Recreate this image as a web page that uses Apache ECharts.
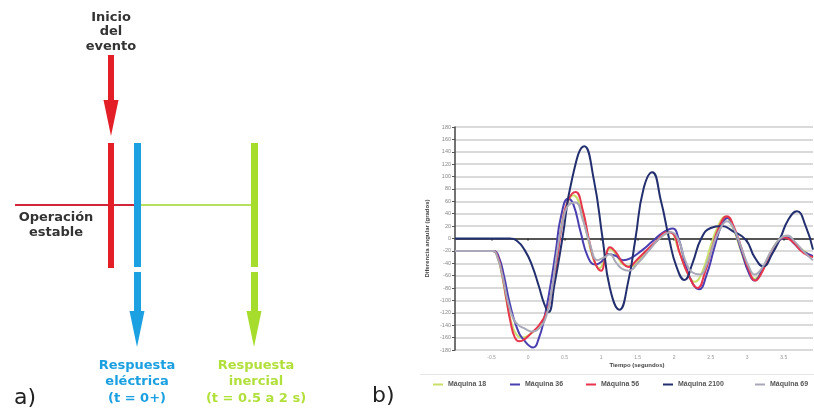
<!DOCTYPE html>
<html>
<head>
<meta charset="utf-8">
<script src="https://cdn.jsdelivr.net/npm/echarts@6/dist/echarts.min.js"></script>
<style>html,body{margin:0;padding:0;background:#fff}#c{width:814px;height:418px}</style>
</head>
<body>
<div id="c"></div>
<script>
// ---- Chart b) data: time (s) vs angular difference (degrees) ----
const seriesNames = ['Máquina 18', 'Máquina 36', 'Máquina 56', 'Máquina 2100', 'Máquina 69'];
const yTicks = { min: -180, max: 180, step: 20 };
const xTicks = { min: -1, max: 3.9, step: 0.5 };

const maq18 = [[-1,-20],[-0.48,-20],[-0.42,-30],[-0.36,-58],[-0.3,-98],[-0.23,-135],[-0.16,-155],[-0.08,-160],[0.02,-155],[0.12,-145],[0.22,-128],[0.3,-100],[0.38,-45],[0.45,15],[0.53,55],[0.62,70],[0.72,50],[0.8,10],[0.9,-35],[0.98,-48],[1.05,-30],[1.12,-17],[1.2,-25],[1.3,-42],[1.4,-45],[1.55,-30],[1.7,-12],[1.85,5],[1.95,10],[2.05,-15],[2.18,-55],[2.28,-70],[2.38,-55],[2.5,-12],[2.6,20],[2.7,35],[2.8,18],[2.9,-15],[3.0,-48],[3.1,-65],[3.2,-52],[3.3,-27],[3.42,-4],[3.52,3],[3.62,-5],[3.75,-18],[3.9,-30]];
const maq36 = [[-1,-20],[-0.47,-20],[-0.4,-30],[-0.33,-60],[-0.25,-105],[-0.15,-145],[-0.05,-165],[0.07,-176],[0.15,-160],[0.22,-130],[0.3,-80],[0.38,-20],[0.45,35],[0.55,64],[0.62,55],[0.72,10],[0.82,-30],[0.92,-42],[1.0,-38],[1.1,-25],[1.2,-28],[1.3,-35],[1.4,-32],[1.55,-20],[1.7,-5],[1.85,10],[1.98,16],[2.06,0],[2.15,-40],[2.25,-72],[2.34,-82],[2.44,-60],[2.55,-15],[2.65,22],[2.73,33],[2.82,15],[2.92,-20],[3.02,-55],[3.1,-68],[3.2,-52],[3.32,-25],[3.44,-3],[3.54,2],[3.64,-8],[3.75,-20],[3.9,-28]];
const maq56 = [[-1,-20],[-0.48,-20],[-0.42,-28],[-0.36,-55],[-0.3,-95],[-0.24,-135],[-0.18,-160],[-0.12,-166],[-0.04,-162],[0.05,-152],[0.15,-140],[0.25,-120],[0.33,-85],[0.4,-30],[0.47,25],[0.55,62],[0.65,75],[0.75,45],[0.83,0],[0.92,-40],[1.0,-52],[1.06,-30],[1.12,-14],[1.2,-22],[1.3,-40],[1.37,-46],[1.5,-33],[1.63,-18],[1.75,-5],[1.9,10],[1.98,8],[2.08,-25],[2.2,-60],[2.32,-80],[2.42,-55],[2.52,-15],[2.62,20],[2.72,36],[2.82,18],[2.92,-15],[3.02,-50],[3.11,-68],[3.2,-55],[3.3,-28],[3.42,-5],[3.5,2],[3.62,-5],[3.72,-18],[3.82,-27],[3.9,-30]];
const maq2100 = [[-1,0],[-0.25,0],[-0.15,-4],[-0.05,-18],[0.05,-42],[0.15,-78],[0.22,-105],[0.28,-119],[0.36,-75],[0.47,0],[0.6,95],[0.77,149],[0.9,95],[1.02,0],[1.12,-80],[1.25,-115],[1.37,-70],[1.47,0],[1.58,80],[1.7,107],[1.82,60],[1.93,0],[2.03,-45],[2.14,-67],[2.25,-40],[2.37,0],[2.5,17],[2.65,20],[2.8,12],[2.98,-2],[3.1,-30],[3.22,-45],[3.34,-25],[3.45,0],[3.56,30],[3.68,44],[3.8,20],[3.9,-18]];
const maq69 = [[-1,-20],[-0.48,-20],[-0.42,-30],[-0.35,-60],[-0.28,-100],[-0.2,-130],[-0.13,-140],[-0.05,-145],[0.05,-150],[0.15,-145],[0.25,-125],[0.33,-80],[0.4,-20],[0.48,30],[0.56,55],[0.65,58],[0.75,30],[0.85,-10],[0.95,-35],[1.05,-30],[1.12,-25],[1.2,-38],[1.3,-50],[1.38,-52],[1.5,-40],[1.65,-20],[1.8,0],[1.95,10],[2.05,0],[2.15,-35],[2.25,-55],[2.35,-58],[2.45,-40],[2.55,-5],[2.65,20],[2.72,28],[2.82,15],[2.92,-15],[3.02,-45],[3.1,-58],[3.2,-48],[3.32,-22],[3.45,0],[3.55,5],[3.65,-5],[3.78,-22],[3.9,-35]];

// ---- Diagram a): segments [x1,y1,x2,y2] in diagram units ----
const redBars   = [[111,55,111,102],[111,143,111,268]];
const blueBars  = [[137,143,137,267],[137,272,137,314]];
const greenBars = [[254,143,254,267],[254,272,254,314]];
const stableLine = [[15,205,137,205]];
const inertialLine = [[137,205,254,205]];
const arrowHeads = [[111,118,'#e31e27'],[137,329,'#1ba0e2'],[254,329,'#a6dc2b']];

const chart = echarts.init(document.getElementById('c'), null, {renderer:'canvas'});

function segs(arr, color, width){
  return arr.map(s => ({coords:[[s[0],s[1]],[s[2],s[3]]], lineStyle:{color:color, width:width, opacity:1}}));
}

const lineColors = ['#c9df6a','#4a3fb0','#e8344e','#232f6e','#a8a8b8'];
const lineData = [maq18, maq36, maq56, maq2100, maq69];
const legendLefts = [428, 505, 581, 658, 750];

const txtFont = 'bold 13px "DejaVu Sans", sans-serif';

const option = {
  animation:false,
  backgroundColor:'#ffffff',
  grid:[
    {left:0, top:0, width:300, height:418, show:false},
    {left:455, top:127, width:358, height:223, show:false}
  ],
  xAxis:[
    {gridIndex:0, type:'value', min:0, max:300, show:false},
    {gridIndex:1, type:'value', min:xTicks.min, max:xTicks.max, interval:xTicks.step,
     axisLine:{onZero:true, lineStyle:{color:'#555', width:2}},
     axisTick:{show:true, length:2, lineStyle:{color:'#333', width:1.5}},
     axisLabel:{showMinLabel:false, showMaxLabel:false, fontSize:5, color:'#999', margin:5},
     splitLine:{show:false}}
  ],
  yAxis:[
    {gridIndex:0, type:'value', min:0, max:418, inverse:true, show:false},
    {gridIndex:1, type:'value', min:yTicks.min, max:yTicks.max, interval:yTicks.step,
     name:'Diferencia angular (grados)', nameLocation:'middle', nameGap:25, nameRotate:90,
     nameTextStyle:{fontSize:6, fontWeight:'bold', color:'#444'},
     axisLine:{show:true, onZero:false, lineStyle:{color:'#444', width:1.5}},
     axisTick:{show:true, length:3, lineStyle:{color:'#555'}},
     axisLabel:{fontSize:5.5, color:'#888', margin:4},
     splitLine:{show:true, lineStyle:{color:'#dadada', width:2}}}
  ],
  legend: seriesNames.map((n,i)=>({data:[n], left:legendLefts[i], top:376, itemWidth:10, itemHeight:2, icon:'rect', itemGap:4,
    textStyle:{fontSize:7, fontWeight:'bold', color:'#555'}})),
  graphic:[
    {type:'line', shape:{x1:420, y1:374.5, x2:814, y2:374.5}, style:{stroke:'#e6e6e6', lineWidth:1}},
    {type:'text', style:{text:'Tiempo (segundos)', x:637, y:365, textAlign:'center', textVerticalAlign:'middle', font:'bold 6px sans-serif', fill:'#444'}},
    {type:'text', style:{text:'Inicio\ndel\nevento', x:111, y:32, textAlign:'center', textVerticalAlign:'middle', font:txtFont, lineHeight:14.5, fill:'#333'}},
    {type:'text', style:{text:'Operación\nestable', x:56, y:225, textAlign:'center', textVerticalAlign:'middle', font:txtFont, lineHeight:15, fill:'#333'}},
    {type:'text', style:{text:'Respuesta\neléctrica\n(t = 0+)', x:137, y:382, textAlign:'center', textVerticalAlign:'middle', font:txtFont, lineHeight:16.5, fill:'#1aa0e0'}},
    {type:'text', style:{text:'Respuesta\ninercial\n(t = 0.5 a 2 s)', x:256, y:382, textAlign:'center', textVerticalAlign:'middle', font:txtFont, lineHeight:16.5, fill:'#b2e03a'}},
    {type:'text', style:{text:'a)', x:14, y:398, textAlign:'left', textVerticalAlign:'middle', font:'22px "DejaVu Sans", sans-serif', fill:'#222'}},
    {type:'text', style:{text:'b)', x:372, y:396, textAlign:'left', textVerticalAlign:'middle', font:'22px "DejaVu Sans", sans-serif', fill:'#222'}}
  ],
  series:[
    {type:'lines', coordinateSystem:'cartesian2d', xAxisIndex:0, yAxisIndex:0, silent:true, z:2,
     data:[].concat(segs(stableLine,'#d0283a',2), segs(inertialLine,'#b8e060',2))},
    {type:'lines', coordinateSystem:'cartesian2d', xAxisIndex:0, yAxisIndex:0, silent:true, z:3,
     data:[].concat(segs(redBars,'#e31e27',6), segs(blueBars,'#1ba0e2',7), segs(greenBars,'#a6dc2b',7))},
    {type:'scatter', xAxisIndex:0, yAxisIndex:0, silent:true, z:4, symbol:'triangle', symbolRotate:180,
     symbolSize:[15,36],
     data: arrowHeads.map(a=>({value:[a[0],a[1]], itemStyle:{color:a[2], opacity:1}}))}
  ].concat(seriesNames.map((n,i)=>({
    name:n, type:'line', xAxisIndex:1, yAxisIndex:1, data:lineData[i], smooth:0.5, showSymbol:false,
    lineStyle:{color:lineColors[i], width:2}, itemStyle:{color:lineColors[i]}, z:5+i
  })))
};
chart.setOption(option);
</script>
</body>
</html>
